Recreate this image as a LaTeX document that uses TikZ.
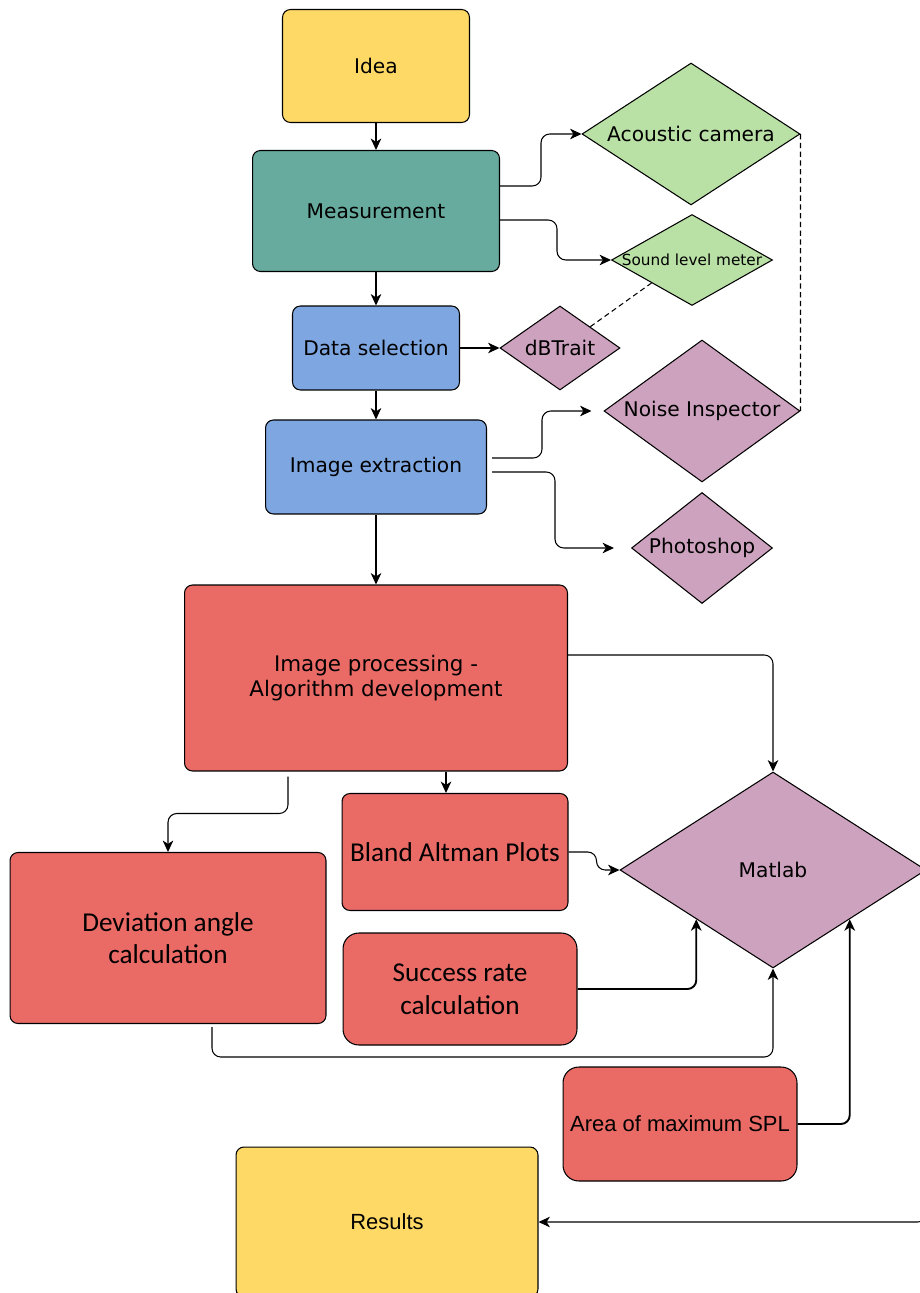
\documentclass[tikz,border=0pt]{standalone}
\usepackage{fontspec}
\setmainfont{DejaVu Sans}
\newfontfamily\calfont{Carlito}
\newfontfamily\arialfont{Liberation Sans}
\definecolor{fcYellow}{HTML}{FFD966}
\definecolor{fcTeal}{HTML}{67AB9F}
\definecolor{fcBlue}{HTML}{7EA6E0}
\definecolor{fcRed}{HTML}{EA6B66}
\definecolor{fcGreen}{HTML}{B9E0A5}
\definecolor{fcPurple}{HTML}{CDA2BE}
\usepackage{tikz}
\usetikzlibrary{calc,positioning,arrows.meta,shapes.geometric}
\newcommand{\nowidth}[1]{\makebox[0pt]{#1}}
\tikzset{
  box/.style={draw=black, line width=0.6pt, rounded corners=4.5pt, align=center,
    inner sep=0pt, font=\fontsize{11.5}{14.2}\selectfont},
  calbox/.style={box, font=\calfont\fontsize{15.5}{18.6}\selectfont},
  diam/.style={shape=diamond, draw=black, line width=0.6pt, inner sep=0pt,
    font=\fontsize{11.5}{14}\selectfont},
  arr/.style={-{Stealth[length=6.5pt,width=6pt,inset=1.9pt]}, line width=0.6pt, rounded corners=5pt},
  boldarr/.style={arr, line width=1.1pt},
  link/.style={line width=0.6pt, dash pattern=on 3pt off 2pt}
}
\begin{document}
\begin{tikzpicture}[x=0.02cm, y=-0.02cm]
  \useasboundingbox (0,0) rectangle (919,1293);

  % main column
  \node[box, fill=fcYellow, minimum width=3.74cm, minimum height=2.26cm] (idea) at (376,66) {Idea};
  \node[box, fill=fcTeal, minimum width=4.94cm, minimum height=2.42cm] (meas) at (376,211) {Measurement};
  \node[box, fill=fcBlue, minimum width=3.34cm, minimum height=1.68cm] (dsel) at (376,348) {Data selection};
  \node[box, fill=fcBlue, minimum width=4.42cm, minimum height=1.88cm] (iext) at (376,467) {Image extraction};
  \node[box, fill=fcRed, minimum width=7.66cm, minimum height=3.72cm,
    font=\fontsize{12.2}{14.4}\selectfont] (iproc) at (376,678) {Image processing -\\Algorithm development};

  % tools
  \node[diam, fill=fcGreen, minimum width=4.36cm, minimum height=2.84cm] (ac) at (691,134) {\nowidth{Acoustic camera}};
  \node[diam, fill=fcGreen, minimum width=3.22cm, minimum height=1.82cm, font=\fontsize{8.7}{10}\selectfont] (slm) at (692,260) {\nowidth{Sound level meter}};
  \node[diam, fill=fcPurple, minimum width=2.4cm, minimum height=1.68cm] (dbt) at (560,348) {\nowidth{dBTrait}};
  \node[diam, fill=fcPurple, minimum width=3.92cm, minimum height=2.84cm] (ni) at (702,411) {\nowidth{Noise Inspector}};
  \node[diam, fill=fcPurple, minimum width=2.82cm, minimum height=2.22cm] (ps) at (702,548) {\nowidth{Photoshop}};
  \node[diam, fill=fcPurple, minimum width=6.12cm, minimum height=3.92cm] (mat) at (773,870) {\nowidth{Matlab}};

  % analysis boxes
  \node[calbox, fill=fcRed, minimum width=6.32cm, minimum height=3.42cm] (dev) at (168,938) {Deviation angle\\calculation};
  \node[calbox, fill=fcRed, minimum width=4.52cm, minimum height=2.34cm] (bland) at (455,852) {Bland Altman Plots};
  \node[calbox, fill=fcRed, rounded corners=9pt, minimum width=4.68cm, minimum height=2.24cm] (succ) at (460,989) {Success rate\\calculation};
  \node[box, fill=fcRed, rounded corners=9pt, minimum width=4.68cm, minimum height=2.28cm,
    font=\arialfont\fontsize{12.5}{15}\selectfont] (area) at (680,1124) {Area of maximum SPL};
  \node[box, fill=fcYellow, minimum width=6.04cm, minimum height=3.0cm,
    font=\arialfont\fontsize{12.5}{15}\selectfont] (res) at (387,1222) {Results};

  % flow
  \draw[arr] (idea) -- (meas);
  \draw[arr] (meas) -- (dsel);
  \draw[arr] (dsel) -- (iext);
  \draw[arr] (iext) -- (iproc);
  \draw[arr] (dsel) -- (dbt);
  \draw[arr] ($(meas.east)+(0,-25)$) -- ++(41,0) |- (ac.west);
  \draw[arr] ($(meas.east)+(0,9)$) -- ++(57,0) |- (slm.west);
  \draw[arr] ($(iext.east)+(5,-9)$) -- ++(50,0) |- ($(ni.west)+(-12,0)$);
  \draw[arr] ($(iext.east)+(5,5)$) -- ++(63,0) |- ($(ps.west)+(-17,0)$);
  \draw[link] (dbt.north east) -- (slm.south west);
  \draw[link] (ac.east) -- (ni.east);

  % towards Matlab
  \draw[arr] ($(iproc.east)+(0,-23)$) -| (mat.north);
  \draw[arr] ($(iproc.south)+(70,0)$) -- ($(bland.north)+(-9,0)$);
  \draw[arr] ($(iproc.south)+(-88,5)$) -- ++(0,37) -| (dev.north);
  \draw[arr] (bland.east) -- ++(28,0) |- (mat.west);
  \draw[boldarr] (succ.east) -| (mat.south west);
  \draw[arr] ($(dev.south)+(44,3)$) -- ++(0,30) -| (mat.south);
  \draw[boldarr] (area.east) -| (mat.south east);
  \draw[arr] (mat.east) |- (res.east);
\end{tikzpicture}
\end{document}
